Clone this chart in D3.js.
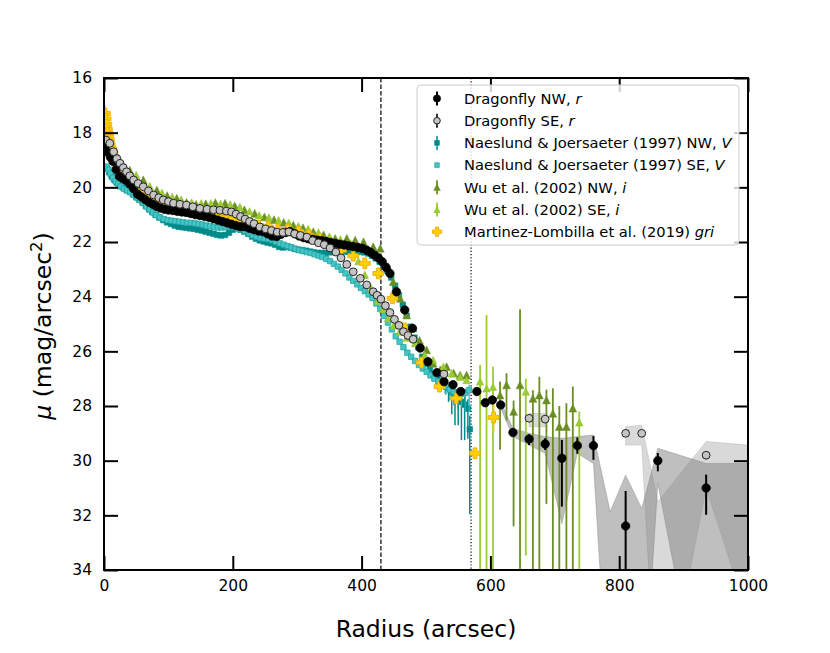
<!DOCTYPE html>
<html>
<head>
<meta charset="utf-8">
<script src="https://cdn.jsdelivr.net/npm/d3@7"></script>
<style>
body { margin: 0; background: #fff; }
svg { display: block; font-family: "DejaVu Sans", sans-serif; }
</style>
</head>
<body>
<svg id="chart" width="830" height="653"></svg>
<script>
// profiles: [radius, mu, errUp, errDown]
const dragonflyNW = [
    [2,18.5],[6,18.72],[10,18.9],[14,19.05],[19,19.35],[24,19.6],[29,19.67],[34,19.74],[40,19.88],[46,20.05],
    [52,20.25],[58,20.35],[64,20.45],[70,20.55],[76,20.62],[82,20.7],[88,20.76],[94,20.8],[100,20.83],[107,20.85],
    [114,20.88],[121,20.9],[128,20.92],[135,20.96],[142,21.0],[149,21.03],[156,21.06],[163,21.1],[170,21.15],[177,21.2],
    [184,21.25],[191,21.3],[198,21.35],[205,21.4],[212,21.44],[219,21.44],[226,21.5],[233,21.55],[240,21.6],[247,21.62],
    [254,21.7],[261,21.78],[268,21.8],[275,21.72],[282,21.65],[289,21.62],[296,21.7],[303,21.78],[310,21.84],[317,21.88],
    [324,21.9],[331,21.93],[338,21.95],[345,21.98],[352,22.02],[359,22.05],[366,22.08],[373,22.11],[380,22.14],[387,22.17],
    [394,22.2],[401,22.23],[408,22.3],[414,22.38],[420,22.48],[426,22.58],[432,22.72],[438,22.93],[444,23.15],[454,23.82],
    [467,24.49],[479,25.16],[491,25.88],[503,26.38],[517,26.78],[528,27.11],[542,27.22],[554,27.47],[579,27.47],[592,27.88],
    [603,27.78],[616,27.96],[635,28.97],[660,29.21,0.17,0.22],[685,29.39,0.21,0.22],[711,29.91,0.67,1.77],
    [735,29.45,0.3,0.3],[760,29.45,0.35,0.52],[810,32.39,1.28,6],[860,30.0,0.28,0.39],[935,31.0,0.49,0.98]
];
const dragonflySE = [
    [3,18.27],[9,18.39],[15,18.7],[20,18.95],[25,19.12],[30,19.28],[35,19.43],[40,19.58],[46,19.73],[53,19.86],
    [61,19.98],[69,20.13],[77,20.28],[85,20.38],[92,20.46],[100,20.52],[108,20.58],[118,20.62],[128,20.65],[138,20.71],
    [149,20.77],[160,20.8],[170,20.82],[180,20.84],[190,20.87],[198,20.9],[205,20.98],[212,21.07],[219,21.16],[226,21.25],
    [233,21.33],[242,21.45],[251,21.52],[260,21.58],[269,21.64],[278,21.65],[287,21.63],[296,21.7],[305,21.76],[315,21.82],
    [324,21.95],[333,22.03],[342,22.1],[351,22.22],[360,22.37],[368,22.58],[377,22.82],[387,23.09],[398,23.33],[408,23.57],
    [418,23.82],[424,23.95],[430,24.09],[437,24.33],[444,24.58],[451,24.83],[458,25.05],[465,25.28],[472,25.42],[480,25.56],
    [528,26.83],[660,28.45],[685,28.48],[810,29.0],[835,29.0],[935,29.8,0.15,0.15]
];
const naeslundNW = [
    [4,19.3],[8,19.45],[12,19.6],[16,19.72],[20,19.82],[25,19.92],[30,20.0],[35,20.08],[40,20.15],[45,20.25],
    [50,20.35],[55,20.45],[60,20.55],[65,20.68],[70,20.8],[75,20.9],[80,21.0],[86,21.1],[92,21.2],[98,21.28],
    [104,21.34],[110,21.4],[116,21.44],[122,21.46],[128,21.48],[134,21.5],[140,21.52],[146,21.55],[152,21.58],[158,21.62],
    [164,21.66],[170,21.7],[176,21.74],[182,21.76],[188,21.74],[194,21.66],[200,21.55],[206,21.5],[212,21.55],[218,21.62],
    [224,21.7],[230,21.8],[236,21.88],[242,21.94],[248,21.98],[254,22.02],[260,22.05],[266,22.1],[272,22.18],[278,22.2],
    [284,22.18],[290,22.2],[296,22.25],[302,22.28],[308,22.3],[314,22.32],[320,22.35],[326,22.38],[332,22.4],[338,22.4],
    [344,22.4],[350,22.38],[356,22.36],[362,22.35],[368,22.35],[374,22.35],[380,22.35],[386,22.35],[392,22.35],[398,22.36],
    [404,22.38],[410,22.42],[416,22.5],[422,22.6],[428,22.72],[434,22.85],[440,23.05],[446,23.3],[452,23.6],[458,23.95],
    [464,24.3],[470,24.7],[476,25.1],[482,25.5],[488,25.85],[494,26.2],[500,26.45],[506,26.65],[512,26.85],[518,27.0],
    [524,27.15],[530,27.25,0.1,0.3],[535,27.35,0.15,0.5],[540,27.5,0.2,0.8],[545,27.6,0.2,1.1],[550,27.7,0.25,1.0],
    [555,27.85,0.3,1.4],[560,27.95,0.3,1.3],[565,28.1,0.35,1.1],[568,28.85,0.5,3.1]
];
const naeslundSE = [
    [4,19.24],[7,19.35],[10,19.5],[14,19.65],[18,19.78],[22,19.88],[26,19.97],[31,20.05],[36,20.12],[41,20.18],
    [46,20.28],[51,20.38],[56,20.46],[61,20.58],[66,20.7],[71,20.82],[76,20.92],[81,21.02],[87,21.1],[93,21.16],
    [99,21.2],[105,21.22],[111,21.24],[117,21.26],[123,21.28],[129,21.3],[135,21.3],[141,21.32],[147,21.34],[153,21.36],
    [159,21.4],[165,21.42],[171,21.45],[177,21.47],[183,21.47],[189,21.45],[195,21.42],[201,21.45],[207,21.5],[213,21.55],
    [219,21.6],[225,21.68],[231,21.76],[237,21.82],[243,21.86],[249,21.88],[255,21.9],[261,21.93],[267,22.0],[273,22.05],
    [279,22.1],[285,22.15],[291,22.2],[297,22.25],[303,22.3],[309,22.33],[315,22.37],[321,22.4],[327,22.45],[333,22.5],
    [339,22.55],[345,22.62],[351,22.7],[357,22.8],[363,22.9],[369,23.02],[375,23.15],[381,23.3],[387,23.42],[393,23.55],
    [399,23.68],[405,23.8],[411,23.92],[417,24.05],[423,24.25],[429,24.45],[435,24.7],[441,24.95],[447,25.2],[453,25.45],
    [459,25.65],[465,25.85],[471,26.05],[477,26.2],[483,26.35],[489,26.5],[495,26.63],[501,26.75],[507,26.88],[513,27.0],
    [519,27.1],[525,27.2],[531,27.3,0.1,0.3],[537,27.4,0.1,0.4],[543,27.48,0.1,0.5],[549,27.52,0.15,0.6],
    [555,27.55,0.15,0.5],[561,27.52,0.15,0.7],[567,27.42,0.2,0.8]
];
const wuNW = [
    [22,19.1],[40,19.37],[61,19.73],[82,20.1],[98,20.3],[113,20.4],[128,20.55],[143,20.62],[158,20.6],[173,20.56],
    [188,20.58],[203,20.68],[218,20.82],[234,20.95],[249,21.08],[264,21.18],[279,21.28],[294,21.38],[309,21.48],[325,21.62],
    [341,21.74],[359,21.87],[377,21.87],[390,21.93],[403,21.99],[418,22.17],[429,22.23],[441,22.9],[449,23.45],[460,24.06],
    [470,24.67],[480,25.15],[490,25.6],[501,25.95],[511,26.44],[522,26.68],[532,26.56],[543,26.8],[553,26.87],[563,26.87],
    [615,27.6,0.5,2.0],[625,27.23,0.43,1.3],[636,28.2,0.4,4.2],[646,27.23,2.77,12],[666,27.72,0.3,12],[676,27.6,0.67,12],
    [687,27.78,0.38,3.8],[697,28.27,0.92,12],[707,28.75,0.75,12],[718,28.75,0.85,12],[728,28.08,0.79,12]
];
const wuSE = [
    [15,18.85],[30,19.2],[50,19.55],[71,19.95],[90,20.2],[106,20.35],[120,20.45],[136,20.55],[151,20.58],[166,20.58],
    [181,20.6],[196,20.62],[211,20.72],[226,20.88],[241,21.02],[256,21.1],[271,21.2],[287,21.3],[302,21.42],[317,21.52],
    [333,21.65],[350,21.8],[367,21.9],[383,22.05],[395,22.7],[405,23.2],[415,23.7],[425,24.15],[433,24.45],[441,24.79],
    [450,25.05],[459,25.28],[470,25.5],[483,25.7],[498,26.14],[511,26.32],[527,26.56],[540,26.8],[553,26.93],[563,27.05],
    [584,27.1,0.6,12],[594,27.35,2.68,12],[604,27.3,0.74,12],[655,27.47,0.47,6.0],[738,28.6,0.4,12]
];
// [radius, mu, err]
const martinez = [
    [1.5,17.3,0.3],[2.5,17.5,0.3],[3.5,17.7,0.28],[4.5,17.88,0.25],[5.5,18.02,0.22],[6.5,18.15,0.2],[7.5,18.28,0.2],
    [9,18.45,0.15],[11,18.6,0.15],[13,18.75,0.12],[15,18.88,0.1],[17,18.98,0.1],[19,19.08,0.1],[21,19.17,0.08],
    [24,19.27,0.08],[27,19.37,0.08],[30,19.46,0.06],[33,19.54,0.06],[36,19.62,0.06],[39,19.7,0.05],[42,19.77,0.05],
    [45,19.85,0.05],[48,19.92,0.05],[51,19.99],[54,20.05],[58,20.12],[62,20.2],[66,20.27],[70,20.33],[75,20.4],
    [80,20.47],[85,20.53],[90,20.58],[96,20.63],[102,20.68],[108,20.72],[114,20.76],[120,20.8],[127,20.84],[134,20.88],
    [141,20.92],[148,20.95],[155,20.98],[162,21.0],[170,21.02],[180,21.05],[190,21.1],[200,21.15],[212,21.22],[225,21.3],
    [240,21.4],[255,21.45],[270,21.55],[285,21.55],[302,21.62],[318,21.75],[335,21.9],[350,22.05],[368,22.3],[387,22.5],
    [405,22.78],[426,23.15],[448,24.06],[467,25.16],[493,26.41],[521,27.29],[547,27.72],[576,29.73,0.1],[605,28.42,0.55]
];
// shaded Dragonfly uncertainty regions: [radius, bright edge, faint edge]
const bandNW = [
    [616,27.84,28.08],[635,28.82,29.12],[660,29.0,29.43],[685,29.12,29.73],[711,29.18,32.3],[735,29.12,29.73],
    [760,29.06,30.1],[786,31.87,40],[810,30.53,40],[835,31.75,40],[860,29.55,30.83],[935,30.1,40],[1000,30.1,40]
];
const bandSE1 = [[660,28.27,28.76],[685,28.27,28.76]];
const bandSE2 = [[810,28.76,29.43],[835,28.7,29.43],[860,31.5,40],[935,29.3,31.0],[1000,29.43,35.7]];

const xTicks = [0, 200, 400, 600, 800, 1000];
const yTicks = [16, 18, 20, 22, 24, 26, 28, 30, 32, 34];
const vLines = [430, 570];

const legendLabels = [
    ['Dragonfly NW, ', 'r'],
    ['Dragonfly SE, ', 'r'],
    ['Naeslund & Joersaeter (1997) NW, ', 'V'],
    ['Naeslund & Joersaeter (1997) SE, ', 'V'],
    ['Wu et al. (2002) NW, ', 'i'],
    ['Wu et al. (2002) SE, ', 'i'],
    ['Martinez-Lombilla et al. (2019) ', 'gri']
];

const x = d3.scaleLinear().domain([0, 1000]).range([104, 748]);
const y = d3.scaleLinear().domain([16, 34]).range([78, 570]);

const svg = d3.select('#chart');

svg.append('clipPath').attr('id', 'clip')
    .append('rect')
    .attr('x', 104).attr('y', 78)
    .attr('width', 644).attr('height', 492);

const plot = svg.append('g').attr('clip-path', 'url(#clip)');

// marker shapes
function markerPath(shape, s) {
    if (shape === 'tri') {
        return `M0,${-s}L${s},${s}L${-s},${s}Z`;
    }
    if (shape === 'plus') {
        const b = s * 0.36;
        return `M${-b},${-s}H${b}V${-b}H${s}V${b}H${b}V${s}H${-b}V${b}H${-s}V${-b}H${-b}Z`;
    }
    if (shape === 'square') {
        return `M${-s},${-s}H${s}V${s}H${-s}Z`;
    }
    return d3.symbol(d3.symbolCircle, Math.PI * s * s)();
}

function drawBand(data, opacity) {
    const area = d3.area()
        .x(d => x(d[0]))
        .y0(d => y(d[2]))
        .y1(d => y(d[1]));
    plot.append('path')
        .attr('d', area(data))
        .attr('fill', '#808080')
        .attr('fill-opacity', opacity)
        .attr('stroke', '#808080')
        .attr('stroke-opacity', opacity)
        .attr('stroke-width', 0.8);
}

function drawSeries(data, opts) {
    const g = plot.append('g');
    data.filter(d => d[2] !== undefined).forEach(d => {
        const up = d[2];
        const dn = d.length > 3 ? d[3] : d[2];
        g.append('line')
            .attr('x1', x(d[0])).attr('x2', x(d[0]))
            .attr('y1', y(d[1] - up)).attr('y2', y(d[1] + dn))
            .attr('stroke', opts.ecolor)
            .attr('stroke-width', opts.ewidth);
    });
    g.selectAll('path.m')
        .data(data)
        .enter()
        .append('path')
        .attr('class', 'm')
        .attr('transform', d => `translate(${x(d[0])},${y(d[1])})`)
        .attr('d', markerPath(opts.shape, opts.size))
        .attr('fill', opts.fill)
        .attr('stroke', opts.stroke)
        .attr('stroke-width', opts.swidth);
}

const styles = {
    dfNW: { shape: 'circle', size: 4.2, fill: '#000000', stroke: '#000000', swidth: 0.8, ecolor: '#000000', ewidth: 2 },
    dfSE: { shape: 'circle', size: 3.9, fill: '#c4c4c4', stroke: '#222222', swidth: 1, ecolor: '#000000', ewidth: 1.6 },
    nNW: { shape: 'square', size: 2.8, fill: '#008b8b', stroke: '#008b8b', swidth: 0.6, ecolor: '#008b8b', ewidth: 1.5 },
    nSE: { shape: 'square', size: 2.7, fill: '#45c6c6', stroke: '#1e9e9e', swidth: 0.7, ecolor: '#2bb0b0', ewidth: 1.2 },
    wNW: { shape: 'tri', size: 3.9, fill: '#6b8e23', stroke: '#6b8e23', swidth: 0.5, ecolor: '#6b8e23', ewidth: 1.8 },
    wSE: { shape: 'tri', size: 3.7, fill: '#9acd32', stroke: '#8cbf2a', swidth: 0.5, ecolor: '#9acd32', ewidth: 1.8 },
    mart: { shape: 'plus', size: 5.4, fill: '#ffd000', stroke: '#eaa400', swidth: 0.8, ecolor: '#f5c400', ewidth: 1.6 }
};

// shaded regions first
drawBand(bandNW, 0.5);
drawBand(bandSE1, 0.3);
drawBand(bandSE2, 0.3);

// reference radii
vLines.forEach((v, i) => {
    plot.append('line')
        .attr('x1', x(v)).attr('x2', x(v))
        .attr('y1', y(16)).attr('y2', y(34))
        .attr('stroke', '#000')
        .attr('stroke-width', 1.2)
        .attr('stroke-dasharray', i === 0 ? '4.5,2' : '1.2,2');
});

drawSeries(naeslundNW, styles.nNW);
drawSeries(naeslundSE, styles.nSE);
drawSeries(wuNW, styles.wNW);
drawSeries(wuSE, styles.wSE);
drawSeries(martinez, styles.mart);
drawSeries(dragonflyNW, styles.dfNW);
drawSeries(dragonflySE, styles.dfSE);

// axes, ticks pointing in
const tickFont = '15.5px';
const axBottom = svg.append('g')
    .attr('transform', 'translate(0,570)')
    .call(d3.axisBottom(x).tickValues(xTicks).tickFormat(d3.format('d'))
        .tickSizeInner(-14).tickSizeOuter(0).tickPadding(10));
const axLeft = svg.append('g')
    .attr('transform', 'translate(104,0)')
    .call(d3.axisLeft(y).tickValues(yTicks).tickFormat(d3.format('d'))
        .tickSizeInner(-14).tickSizeOuter(0).tickPadding(12));
const axTop = svg.append('g')
    .attr('transform', 'translate(0,78)')
    .call(d3.axisTop(x).tickValues(xTicks).tickSizeInner(-14).tickSizeOuter(0).tickFormat(''));
const axRight = svg.append('g')
    .attr('transform', 'translate(748,0)')
    .call(d3.axisRight(y).tickValues(yTicks).tickSizeInner(-14).tickSizeOuter(0).tickFormat(''));

[axBottom, axLeft, axTop, axRight].forEach(a => {
    a.select('.domain').remove();
    a.selectAll('.tick line').attr('stroke', '#000').attr('stroke-width', 2);
    a.selectAll('.tick text')
        .attr('fill', '#000')
        .style('font-family', '"DejaVu Sans", sans-serif')
        .style('font-size', tickFont);
});

svg.append('rect')
    .attr('x', 104).attr('y', 78)
    .attr('width', 644).attr('height', 492)
    .attr('fill', 'none')
    .attr('stroke', '#000')
    .attr('stroke-width', 2);

// axis labels
svg.append('text')
    .attr('x', 426).attr('y', 637)
    .attr('text-anchor', 'middle')
    .style('font-size', '23.5px')
    .text('Radius (arcsec)');

const ylab = svg.append('text')
    .attr('transform', 'translate(51,326) rotate(-90)')
    .attr('text-anchor', 'middle')
    .style('font-size', '23.5px');
ylab.append('tspan').style('font-style', 'italic').text('\u03bc');
ylab.append('tspan').text(' (mag/arcsec');
ylab.append('tspan').attr('dy', -9).style('font-size', '16.5px').text('2');
ylab.append('tspan').attr('dy', 9).text(')');

// legend
const legend = svg.append('g');
legend.append('rect')
    .attr('x', 417).attr('y', 85)
    .attr('width', 322).attr('height', 160)
    .attr('rx', 4)
    .attr('fill', '#fff').attr('fill-opacity', 0.8)
    .attr('stroke', '#cccccc').attr('stroke-width', 1);

const legendStyles = [styles.dfNW, styles.dfSE, styles.nNW, styles.nSE, styles.wNW, styles.wSE, styles.mart];
const legendErr = [true, true, true, false, true, true, false];

legendLabels.forEach((lab, i) => {
    const cy = 98.5 + i * 22.2;
    const st = legendStyles[i];
    if (legendErr[i]) {
        legend.append('line')
            .attr('x1', 437).attr('x2', 437)
            .attr('y1', cy - 7).attr('y2', cy + 7)
            .attr('stroke', st.ecolor)
            .attr('stroke-width', st.ewidth);
    }
    legend.append('path')
        .attr('transform', `translate(437,${cy})`)
        .attr('d', markerPath(st.shape, st.size * 0.85))
        .attr('fill', st.fill)
        .attr('stroke', st.stroke)
        .attr('stroke-width', st.swidth);
    const t = legend.append('text')
        .attr('x', 464).attr('y', cy + 5.2)
        .style('font-size', '14.7px');
    t.append('tspan').text(lab[0]);
    t.append('tspan').style('font-style', 'italic').text(lab[1]);
});
</script>
</body>
</html>
